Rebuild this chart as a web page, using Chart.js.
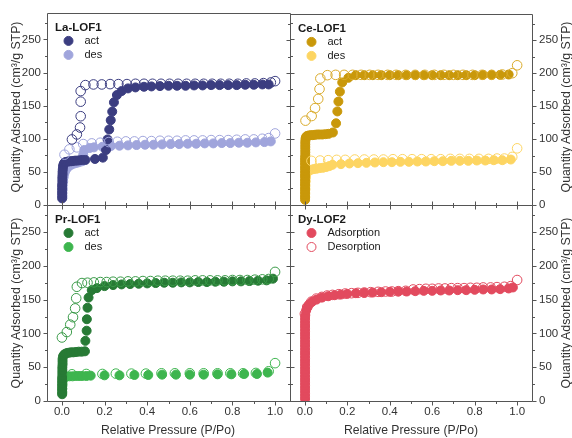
<!DOCTYPE html>
<html>
<head>
<meta charset="utf-8">
<script src="https://cdn.jsdelivr.net/npm/chart.js@4.4.1/dist/chart.umd.min.js"></script>
<style>
  body { margin: 0; background: #fff; }
  #wrap { position: relative; width: 572px; height: 438px; overflow: hidden; font-family: "Liberation Sans", Arial, sans-serif; }
  #wrap canvas { position: absolute; left: 0; top: 0; }
  .ytitle { position: absolute; font-size: 12.3px; color: #333; white-space: nowrap; transform: translate(-50%, -50%) rotate(-90deg); }
  .xtitle { position: absolute; font-size: 12.2px; color: #333; white-space: nowrap; transform: translate(-50%, -50%); }
</style>
</head>
<body>
<div id="wrap">
  <canvas id="la" width="572" height="438"></canvas>
  <canvas id="ce" width="572" height="438"></canvas>
  <canvas id="pr" width="572" height="438"></canvas>
  <canvas id="dy" width="572" height="438"></canvas>
  <div class="ytitle" style="left:16px;top:107px">Quantity Adsorbed (cm³/g STP)</div>
  <div class="ytitle" style="left:16px;top:303px">Quantity Adsorbed (cm³/g STP)</div>
  <div class="ytitle" style="left:566px;top:107px">Quantity Adsorbed (cm³/g STP)</div>
  <div class="ytitle" style="left:566px;top:303px">Quantity Adsorbed (cm³/g STP)</div>
  <div class="xtitle" style="left:168px;top:430px">Relative Pressure (P/Po)</div>
  <div class="xtitle" style="left:411px;top:430px">Relative Pressure (P/Po)</div>
</div>

<script>
// ---- data, [P/Po, quantity] ----
const xTickValues = [0, 0.2, 0.4, 0.6, 0.8, 1.0];
const xMinorValues = [0.1, 0.3, 0.5, 0.7, 0.9];
const yTickValues = [0, 50, 100, 150, 200, 250];
const yMinorValues = [25, 75, 125, 175, 225, 275];

// La-LOF1
const laActAds = [[0.001,10],[0.001,14],[0.001,18],[0.001,22],[0.001,26],[0.001,30],[0.002,34],[0.002,38],[0.002,42],[0.003,46],[0.003,50],[0.004,54],[0.005,58],[0.007,61],[0.01,63],[0.014,64.5],[0.02,65],[0.027,65.5],[0.035,66],[0.043,66],[0.052,66.5],[0.062,67],[0.072,67],[0.083,67.5],[0.095,68],[0.11,68],[0.155,69.5],[0.192,71.5],[0.207,83],[0.214,99],[0.222,114],[0.229,128],[0.236,141],[0.244,155],[0.258,166],[0.28,172],[0.31,176],[0.345,177.5],[0.385,178.5],[0.42,179],[0.46,179.5],[0.5,180],[0.54,180],[0.58,180],[0.62,180.5],[0.66,180.5],[0.7,181],[0.74,181],[0.78,181],[0.82,181],[0.86,181.5],[0.9,181.5],[0.94,182],[0.97,182]];
const laActDes = [[0.047,99],[0.07,106.5],[0.085,117],[0.088,134],[0.088,156],[0.088,172],[0.11,181],[0.148,182],[0.187,182],[0.226,182.5],[0.265,182.5],[0.305,182.5],[0.345,183],[0.385,183],[0.425,183],[0.465,183],[0.505,183],[0.545,183],[0.585,183],[0.625,183],[0.665,183],[0.705,183],[0.745,183],[0.785,183],[0.825,183],[0.865,183.5],[0.905,183.5],[0.945,184],[0.98,185],[1.0,187]];
const laDesAds = [[0.003,12],[0.003,18],[0.004,24],[0.004,30],[0.006,36],[0.008,42],[0.011,47],[0.015,51],[0.02,54],[0.027,57],[0.035,59],[0.045,61],[0.056,62.5],[0.068,63.5],[0.08,64.5],[0.095,66],[0.1,76],[0.105,83],[0.13,86],[0.15,87],[0.19,88],[0.23,89],[0.27,89.5],[0.31,90],[0.35,90.5],[0.39,91],[0.43,91],[0.47,91.5],[0.51,92],[0.55,92],[0.59,92.5],[0.63,92.5],[0.67,93],[0.71,93],[0.75,93.5],[0.79,93.5],[0.83,94],[0.87,94],[0.91,94.5],[0.95,95],[0.98,96]];
const laDesDes = [[0.012,76],[0.035,84],[0.07,87],[0.1,92],[0.14,93],[0.18,94],[0.22,95],[0.26,95.5],[0.3,96],[0.34,96],[0.38,96.5],[0.42,96.5],[0.46,97],[0.5,97],[0.54,97],[0.58,97.5],[0.62,97.5],[0.66,97.5],[0.7,98],[0.74,98],[0.78,98],[0.82,98.5],[0.86,99],[0.9,99],[0.94,100],[0.97,101],[1.0,108]];

// Ce-LOF1
const ceActAds = [[0.001,8],[0.001,12],[0.001,16],[0.001,20],[0.001,24],[0.001,28],[0.001,32],[0.001,36],[0.001,40],[0.001,44],[0.001,48],[0.001,52],[0.001,56],[0.001,60],[0.001,64],[0.001,68],[0.001,72],[0.002,76],[0.002,80],[0.002,84],[0.002,88],[0.002,92],[0.002,96],[0.003,100],[0.005,103],[0.009,104.5],[0.014,105],[0.02,105.5],[0.028,106],[0.037,106],[0.047,106.5],[0.058,107],[0.07,107],[0.083,107],[0.097,107.5],[0.112,108],[0.132,110],[0.147,124],[0.153,142],[0.158,157],[0.165,172],[0.176,186],[0.205,193],[0.24,197],[0.28,197],[0.32,197],[0.36,197],[0.4,197],[0.44,197],[0.48,197],[0.52,197],[0.56,197],[0.6,197],[0.64,197],[0.68,197],[0.72,197],[0.76,197],[0.8,197],[0.84,197.5],[0.88,197.5],[0.92,197.5],[0.96,198]];
const ceActDes = [[0.003,128],[0.032,135],[0.048,147],[0.063,161],[0.069,176],[0.073,192],[0.106,197],[0.145,197.5],[0.185,197.5],[0.225,197.5],[0.265,197.5],[0.305,197.5],[0.345,197.5],[0.39,197.5],[0.43,197.5],[0.475,197.5],[0.52,197.5],[0.565,197.5],[0.61,197.5],[0.655,197.5],[0.7,197.5],[0.745,197.5],[0.79,197.5],[0.835,197.5],[0.88,197.5],[0.93,198],[0.977,200],[1.0,212]];
const ceDesAds = [[0.002,12],[0.002,18],[0.003,24],[0.003,30],[0.004,36],[0.005,42],[0.007,47],[0.012,50.5],[0.02,52.5],[0.03,53.5],[0.042,54.5],[0.055,55],[0.07,56],[0.085,56.5],[0.1,57.5],[0.115,59],[0.13,61],[0.17,62],[0.21,63],[0.25,63.5],[0.29,64],[0.33,64.5],[0.37,65],[0.41,65],[0.45,65.5],[0.49,65.5],[0.53,66],[0.57,66],[0.61,66.5],[0.65,66.5],[0.69,67],[0.73,67],[0.77,67],[0.81,67.5],[0.85,67.5],[0.89,68],[0.93,68],[0.97,69]];
const ceDesDes = [[0.031,67],[0.072,67.5],[0.11,68],[0.15,68.5],[0.19,68.5],[0.235,69],[0.28,69],[0.325,69],[0.37,69],[0.415,69.5],[0.46,69.5],[0.505,69.5],[0.55,69.5],[0.595,69.5],[0.64,69.5],[0.685,70],[0.73,70],[0.775,70],[0.82,70],[0.865,70],[0.905,70.5],[0.94,70.5],[0.977,73],[1.0,86]];

// Pr-LOF1
const prActAds = [[0.001,10],[0.001,14],[0.001,18],[0.001,22],[0.001,26],[0.001,30],[0.001,34],[0.002,38],[0.002,42],[0.002,46],[0.002,50],[0.003,54],[0.003,58],[0.003,62],[0.005,66],[0.01,68.5],[0.016,70],[0.024,71],[0.033,71.5],[0.043,72],[0.054,72],[0.066,72.5],[0.079,73],[0.093,73],[0.108,73.5],[0.11,89],[0.116,104],[0.117,121],[0.12,138],[0.125,153],[0.14,164],[0.164,167],[0.2,170],[0.24,171.5],[0.28,172.5],[0.32,173],[0.36,173.5],[0.4,174],[0.44,174.5],[0.48,175],[0.52,175],[0.56,175.5],[0.6,175.5],[0.64,176],[0.68,176],[0.72,176.5],[0.76,176.5],[0.8,177],[0.84,177],[0.88,177.5],[0.92,178],[0.96,178.5],[0.99,181]];
const prActDes = [[0.0,94],[0.023,102],[0.039,113],[0.052,124],[0.062,137],[0.067,152],[0.07,169],[0.094,174.5],[0.12,175],[0.15,175.5],[0.18,176],[0.21,176],[0.24,176.5],[0.275,176.5],[0.31,177],[0.345,177],[0.38,177.5],[0.415,177.5],[0.45,178],[0.485,178],[0.52,178],[0.555,178],[0.59,178],[0.625,178.5],[0.66,178.5],[0.695,178.5],[0.73,178.5],[0.765,178.5],[0.8,179],[0.835,179],[0.87,179],[0.905,179.5],[0.94,180],[0.97,180.5],[1.0,191]];
const prDesAds = [[0.002,12],[0.002,18],[0.003,24],[0.004,30],[0.007,34],[0.012,35.5],[0.02,36],[0.035,36.5],[0.05,36.5],[0.065,37],[0.08,37],[0.095,37],[0.115,37],[0.135,37.5],[0.2,38],[0.27,38],[0.34,38.5],[0.405,38.5],[0.47,39],[0.535,39],[0.6,39],[0.665,39],[0.73,39.5],[0.795,39.5],[0.855,40],[0.915,40],[0.965,42]];
const prDesDes = [[0.047,39.5],[0.114,40],[0.19,40],[0.253,40.5],[0.326,40.5],[0.394,40.5],[0.467,41],[0.53,41],[0.6,41],[0.665,41],[0.73,41],[0.79,41],[0.85,41],[0.91,41.5],[0.97,44],[1.0,56]];

// Dy-LOF2
const dyAds = [[0.001,3],[0.001,7],[0.001,11],[0.001,15],[0.001,19],[0.001,23],[0.001,27],[0.001,31],[0.001,35],[0.001,39],[0.001,43],[0.001,47],[0.001,51],[0.001,55],[0.001,59],[0.001,63],[0.001,67],[0.001,71],[0.001,75],[0.001,79],[0.001,83],[0.001,87],[0.001,91],[0.001,95],[0.001,99],[0.001,103],[0.001,107],[0.001,111],[0.001,115],[0.001,119],[0.001,123],[0.002,127],[0.006,134],[0.012,139],[0.02,143],[0.035,147],[0.055,150],[0.08,153],[0.11,155],[0.14,156.5],[0.17,157.5],[0.2,158.5],[0.24,159.5],[0.28,160],[0.32,160.5],[0.36,161],[0.4,161.5],[0.44,162],[0.48,162],[0.52,162.5],[0.56,163],[0.6,163],[0.64,163.5],[0.68,163.5],[0.72,164],[0.76,164],[0.8,164.5],[0.84,165],[0.88,165],[0.92,165.5],[0.96,166.5],[0.98,168]];
const dyDes = [[0.0,129],[0.011,139],[0.031,147],[0.054,151.5],[0.08,154],[0.105,156],[0.13,157],[0.16,158],[0.19,159],[0.22,159.5],[0.25,160],[0.28,160.5],[0.31,161],[0.345,161.5],[0.38,162],[0.41,162],[0.44,162.5],[0.475,163],[0.51,165],[0.54,165.5],[0.57,166],[0.6,166],[0.63,166.5],[0.66,166.5],[0.69,167],[0.72,167],[0.75,167],[0.78,167.5],[0.81,167.5],[0.84,168],[0.875,168],[0.905,168.5],[0.94,169],[0.97,170],[1.0,179]];

const FONT = '"Liberation Sans", Arial, sans-serif';
const W = 572, H = 438;

function filled(data, color, label) {
  return { label: label || '', data: data, backgroundColor: color, borderColor: color,
           borderWidth: 1, pointRadius: 4.5, pointHoverRadius: 4.5, order: 1 };
}
function open(data, color, label) {
  return { label: label || '', data: data, backgroundColor: 'transparent', borderColor: color,
           borderWidth: 1, pointRadius: 4.8, pointHoverRadius: 4.8, order: 0 };
}

// box + ticks that cross into the neighbouring panel
const frame = {
  id: 'frame',
  afterDatasetsDraw(chart, args, o) {
    const ctx = chart.ctx, a = chart.chartArea, xs = chart.scales.x, ys = chart.scales.y;
    ctx.save();
    ctx.strokeStyle = '#555';
    ctx.lineWidth = 1;
    const line = (x1, y1, x2, y2) => { ctx.beginPath(); ctx.moveTo(x1, y1); ctx.lineTo(x2, y2); ctx.stroke(); };
    const L = Math.round(a.left) + 0.5, R = Math.round(a.right) + 0.5;
    const T = Math.round(a.top) + 0.5, B = Math.round(a.bottom) + 0.5;
    line(L, T, R, T); line(L, B, R, B); line(L, T, L, B); line(R, T, R, B);
    const xt = (vals, len) => vals.forEach(v => {
      const px = Math.round(xs.getPixelForValue(v)) + 0.5;
      line(px, B, px, B + len);
      if (o.top) line(px, T, px, T - len);
    });
    const yt = (vals, len) => vals.forEach(v => {
      const py = Math.round(ys.getPixelForValue(v)) + 0.5;
      line(L, py, L - len, py);
      line(R, py, R + len, py);
    });
    xt(xTickValues, 4); xt(xMinorValues, 2.5);
    yt(yTickValues, 4); yt(yMinorValues, 2.5);
    ctx.restore();
  }
};

// small legend inside the plot area
const inset = {
  id: 'inset',
  afterDraw(chart, args, o) {
    const ctx = chart.ctx, a = chart.chartArea;
    ctx.save();
    ctx.textBaseline = 'middle';
    ctx.font = 'bold 11.5px ' + FONT;
    ctx.fillStyle = '#1a1a1a';
    ctx.fillText(o.title, a.left + 8, a.top + 14.5);
    ctx.font = '11px ' + FONT;
    let row = 0;
    chart.data.datasets.forEach(d => {
      if (!d.label) return;
      const cy = a.top + 28 + row * 14;
      ctx.beginPath();
      ctx.arc(a.left + 21.5, cy, 4.5, 0, Math.PI * 2);
      if (d.backgroundColor !== 'transparent') { ctx.fillStyle = d.backgroundColor; ctx.fill(); }
      ctx.strokeStyle = d.borderColor; ctx.lineWidth = 1; ctx.stroke();
      ctx.fillStyle = '#1a1a1a';
      ctx.fillText(d.label, a.left + 37.5, cy);
      row++;
    });
    ctx.restore();
  }
};

function panel(id, box, side, showX, datasets, title) {
  const tickFont = { family: FONT, size: 11.5 };
  return new Chart(document.getElementById(id), {
    type: 'scatter',
    data: { datasets: datasets },
    options: {
      responsive: false,
      animation: false,
      devicePixelRatio: 1,
      layout: { padding: {
        left: side === 'left' ? 0 : box.l,
        right: side === 'left' ? W - box.r : 0,
        top: box.t,
        bottom: showX ? 0 : H - box.b } },
      plugins: { legend: { display: false }, tooltip: { enabled: false },
                 inset: { title: title }, frame: { top: box.t > 100 } },
      scales: {
        x: { type: 'linear', min: -0.07, max: 1.07, display: showX,
             grid: { display: false, drawTicks: false }, border: { display: false },
             ticks: { stepSize: 0.2, includeBounds: false, autoSkip: false, maxRotation: 0,
                      padding: 4, color: '#333', font: tickFont, callback: v => v.toFixed(1) },
             afterFit: s => { if (showX) s.height = H - box.b; } },
        y: { type: 'linear', position: side, min: 0, max: 290,
             grid: { display: false, drawTicks: false }, border: { display: false },
             ticks: { stepSize: 50, includeBounds: false, autoSkip: false,
                      padding: side === 'left' ? 6 : 7, color: '#333', font: tickFont },
             afterFit: s => { s.width = side === 'left' ? box.l : W - box.r; } }
      }
    },
    plugins: [frame, inset]
  });
}

const topLeft = { l: 47, r: 290, t: 10, b: 205 };
const topRight = { l: 290, r: 532, t: 10, b: 205 };
const botLeft = { l: 47, r: 290, t: 205, b: 401 };
const botRight = { l: 290, r: 532, t: 205, b: 401 };

panel('la', topLeft, 'left', false, [
  filled(laActAds, '#3b3d80', 'act'),
  filled(laDesAds, '#a0a5dc', 'des'),
  open(laActDes, '#3b3d80'),
  open(laDesDes, '#a0a5dc')
], 'La-LOF1');

panel('ce', topRight, 'right', false, [
  filled(ceActAds, '#c9980a', 'act'),
  filled(ceDesAds, '#fdd562', 'des'),
  open(ceActDes, '#d9aa2a'),
  open(ceDesDes, '#fdd562')
], 'Ce-LOF1');

panel('pr', botLeft, 'left', true, [
  filled(prActAds, '#277a35', 'act'),
  filled(prDesAds, '#3db54e', 'des'),
  open(prActDes, '#3a9a48'),
  open(prDesDes, '#3db54e')
], 'Pr-LOF1');

panel('dy', botRight, 'right', true, [
  filled(dyAds, '#e24a5e', 'Adsorption'),
  open(dyDes, '#e24a5e', 'Desorption')
], 'Dy-LOF2');
</script>
</body>
</html>
